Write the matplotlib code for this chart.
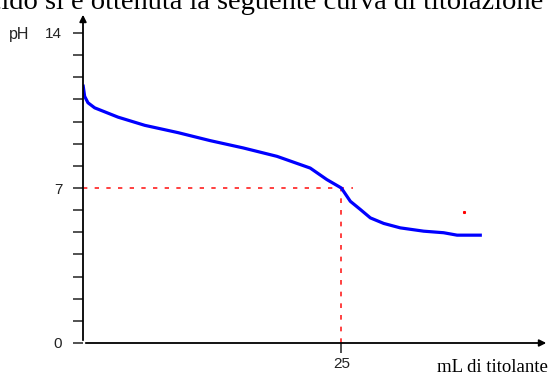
import matplotlib.pyplot as plt

# titration curve
ml = [0, 0.16, 0.48, 1.13, 2.10, 3.39, 5.98, 9.2, 12.3, 15.5, 18.77, 21.99, 23.6, 25.0,
      25.87, 26.84, 27.81, 29.1, 30.7, 32.97, 34.9, 36.2, 38.6]
ph = [11.67, 11.14, 10.85, 10.62, 10.44, 10.2, 9.83, 9.5, 9.14, 8.81, 8.43, 7.9, 7.38, 7.0,
      6.4, 6.03, 5.65, 5.4, 5.2, 5.05, 4.98, 4.87, 4.87]

eq_ml = 25
eq_ph = 7
y_labels = {0: "0", 7: "7", 14: "14"}

W, H = 554, 379
fig = plt.figure(figsize=(W / 100, H / 100), dpi=100)
ax = fig.add_axes([83 / W, (H - 343) / H, (548 - 83) / W, (343 - 33) / H])
ax.set_xlim(0, 45)
ax.set_ylim(0, 14)
for s in ax.spines.values():
    s.set_visible(False)

# axes with arrows
ax.annotate("", xy=(0, 14.95), xytext=(0, 0), xycoords="data",
            arrowprops=dict(arrowstyle="-|>", color="black", lw=1.3,
                            mutation_scale=10), annotation_clip=False)
ax.annotate("", xy=(45.1, 0), xytext=(0, 0), xycoords="data",
            arrowprops=dict(arrowstyle="-|>", color="black", lw=1.3,
                            mutation_scale=10), annotation_clip=False)

ax.set_yticks(range(0, 15))
ax.set_yticklabels([y_labels.get(v, "") for v in range(0, 15)])
ax.set_xticks([eq_ml])
ax.set_xticklabels([str(eq_ml)])
ax.tick_params(axis="y", direction="out", length=7, width=1.2, color="#333333",
               labelsize=11, pad=8, labelcolor="#222222")
ax.tick_params(axis="x", direction="out", length=7, width=1.2, color="#333333",
               labelsize=11, pad=3, labelcolor="#222222")
for lab in ax.get_xticklabels() + ax.get_yticklabels():
    lab.set_fontfamily("Liberation Sans")

# guide lines at the equivalence point
ax.plot([0, 26.1], [eq_ph, eq_ph], color="#ff2020", lw=1.2, dashes=(2.6, 4.4), clip_on=False)
ax.plot([eq_ml, eq_ml], [0, eq_ph], color="#ff2020", lw=1.2, dashes=(2.8, 4.2), clip_on=False)
ax.plot([36.9], [5.93], marker="s", ms=1.2, color="red", lw=0)

ax.plot(ml, ph, color="blue", lw=2.3, solid_capstyle="butt")

fig.text(9 / W, 1 - 35 / H, "pH", fontsize=11.5, family="Liberation Sans",
         color="#222222", va="center")
fig.text(548 / W, 1 - 368 / H, "mL di titolante", fontsize=13.5,
         family="Liberation Serif", ha="right", va="center")
fig.text(-24 / W, 1 - 9 / H, "acido si è ottenuta la seguente curva di titolazione",
         fontsize=20.5, family="Liberation Serif", ha="left", va="baseline")

fig.savefig("out.png", dpi=100)
